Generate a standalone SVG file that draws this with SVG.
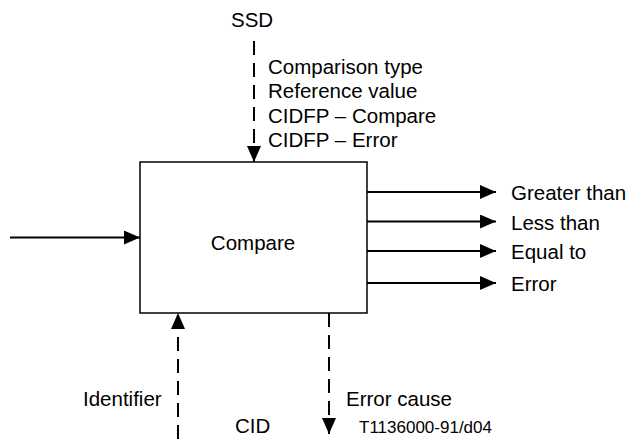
<svg xmlns="http://www.w3.org/2000/svg" width="630" height="439" viewBox="0 0 630 439">
<defs>
<style>
text{font-family:"Liberation Sans",Arial,sans-serif;font-size:20.5px;fill:#000}
.small{font-size:17px}
.ln{stroke:#000;stroke-width:2;fill:none}
.dash{stroke-dasharray:14 8}
</style>
<marker id="ah" markerWidth="17" markerHeight="14" refX="16" refY="7" orient="auto" markerUnits="userSpaceOnUse">
<path d="M0,0 L16,7 L0,14 Z" fill="#000"/>
</marker>
</defs>
<rect width="630" height="439" fill="#fff"/>
<g id="compare">
<rect x="140" y="162" width="227" height="151" fill="#fff" stroke="#000" stroke-width="1.5"/>
<text x="253" y="250" text-anchor="middle">Compare</text>
</g>
<g id="connectors">
<line class="ln dash" x1="254" y1="41" x2="254" y2="162" marker-end="url(#ah)"/>
<line class="ln" x1="10" y1="237.5" x2="140" y2="237.5" marker-end="url(#ah)"/>
<line class="ln" x1="367" y1="192" x2="496" y2="192" marker-end="url(#ah)"/>
<line class="ln" x1="367" y1="221.5" x2="496" y2="221.5" marker-end="url(#ah)"/>
<line class="ln" x1="367" y1="251" x2="496" y2="251" marker-end="url(#ah)"/>
<line class="ln" x1="367" y1="283" x2="496" y2="283" marker-end="url(#ah)"/>
<line class="ln dash" x1="178" y1="439" x2="178" y2="313" marker-end="url(#ah)"/>
<line class="ln dash" x1="329" y1="313" x2="329" y2="434" marker-end="url(#ah)"/>
</g>
<g id="labels">
<text x="231" y="27">SSD</text>
<text x="268" y="74">Comparison type</text>
<text x="268" y="98">Reference value</text>
<text x="268" y="122.5">CIDFP – Compare</text>
<text x="268" y="147">CIDFP – Error</text>
<text x="511" y="200">Greater than</text>
<text x="511" y="229.5">Less than</text>
<text x="511" y="259">Equal to</text>
<text x="511" y="291">Error</text>
<text x="83" y="406">Identifier</text>
<text x="346" y="406">Error cause</text>
<text x="235" y="433">CID</text>
<text class="small" x="359" y="433">T1136000-91/d04</text>
</g>
</svg>
